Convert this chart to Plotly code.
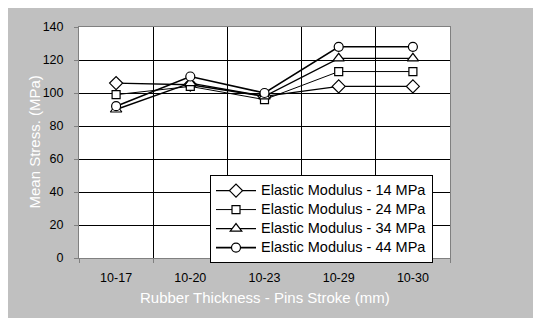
import plotly.graph_objects as go

categories = ["10-17", "10-20", "10-23", "10-29", "10-30"]
series_names = ["Elastic Modulus - 14 MPa", "Elastic Modulus - 24 MPa",
                "Elastic Modulus - 34 MPa", "Elastic Modulus - 44 MPa"]
em14 = [106, 105, 98, 104, 104]
em24 = [99, 104, 96, 113, 113]
em34 = [90, 106, 98, 121, 121]
em44 = [92, 110, 100, 128, 128]
y_ticks = [0, 20, 40, 60, 80, 100, 120, 140]

values = [em14, em24, em34, em44]
symbols = ["diamond", "square", "triangle-up", "circle"]
sizes = [10, 8, 10, 9]
widths = [1.3, 1.0, 1.4, 1.6]

W, H = 541, 318
# page body has an 8px margin: figure coords = screen coords - 8
L, R, T, B = 71, 99, 16, 68

fig = go.Figure()
for name, vals, sym, sz, lw in zip(series_names, values, symbols, sizes, widths):
    fig.add_trace(go.Scatter(
        x=categories, y=vals, mode="lines+markers",
        name='<span style="font-size:14.5px">' + name + '</span>',
        line=dict(color="black", width=lw),
        marker=dict(symbol=sym, size=sz, color="white",
                    line=dict(color="black", width=1.2)),
    ))

pw = W - L - R
ph = H - T - B

fig.update_layout(
    width=W, height=H,
    margin=dict(l=L, r=R, t=T, b=B),
    paper_bgcolor="#C0C0C0",
    plot_bgcolor="white",
    font=dict(family="Liberation Sans, Arial, sans-serif", color="black", size=12),
    showlegend=True,
    legend=dict(
        x=(202 - L) / pw, y=(T + ph - 166) / ph, xanchor="left", yanchor="top",
        bgcolor="white", bordercolor="black", borderwidth=1,
        font=dict(size=12, color="black"),
        tracegroupgap=0, itemwidth=40, entrywidth=232,
    ),
    xaxis=dict(
        type="category", range=[-0.5, 4.5], tickson="boundaries",
        showgrid=True, gridcolor="black", gridwidth=1,
        showline=True, linecolor="#808080", linewidth=1, mirror=True,
        ticks="outside", ticklen=4, tickcolor="#808080",
        tickfont=dict(size=12.5), zeroline=False, ticklabelstandoff=8,
    ),
    yaxis=dict(
        range=[0, 140], tickvals=y_ticks,
        showgrid=True, gridcolor="black", gridwidth=1,
        showline=True, linecolor="#808080", linewidth=1, mirror=True,
        ticks="outside", ticklen=4, tickcolor="#808080",
        tickfont=dict(size=12.5), zeroline=False, ticklabelstandoff=8,
    ),
    annotations=[
        dict(text="Rubber Thickness - Pins Stroke (mm)", xref="paper", yref="paper",
             x=0.5, y=-40 / ph, xanchor="center", yanchor="middle",
             showarrow=False, font=dict(size=15, color="white")),
        dict(text="Mean Stress. (MPa)", xref="paper", yref="paper",
             x=-(L - 26) / pw, y=0.5, xanchor="center", yanchor="middle",
             textangle=-90, showarrow=False, font=dict(size=15, color="white")),
    ],
)

fig.write_html("out.html")
